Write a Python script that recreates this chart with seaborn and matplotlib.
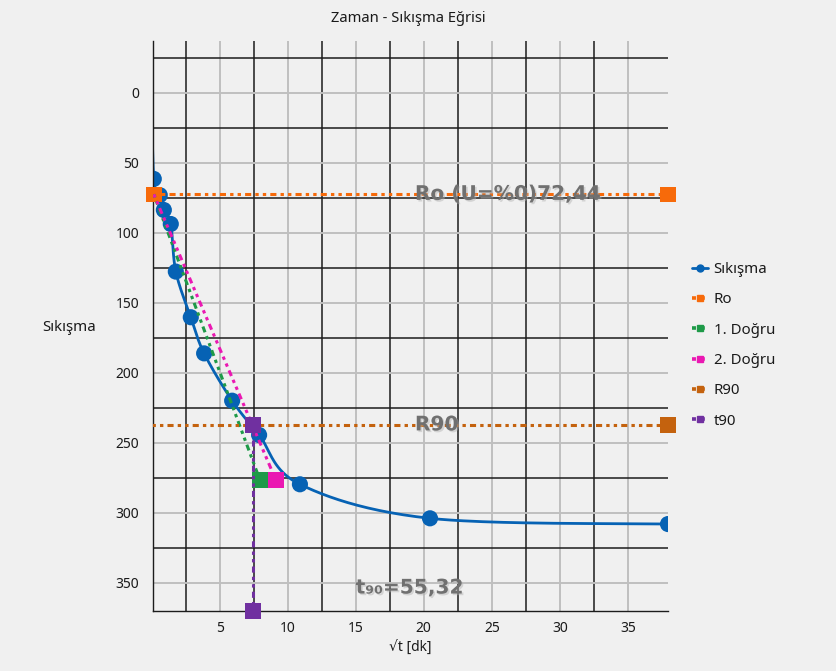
import numpy as np
import matplotlib
matplotlib.use("Agg")
import matplotlib.pyplot as plt
import matplotlib.patheffects as pe
from matplotlib.lines import Line2D
import seaborn as sns

# --- readings: square root of time [dk] and settlement (Sıkışma) ---
sqrt_t = [0.0, 0.16, 0.60, 0.90, 1.41, 1.78, 2.88, 3.86, 5.92, 7.90, 10.90, 20.46, 37.95]
sikisma = [0.0, 61.4, 73.0, 83.6, 93.6, 127.6, 160.2, 186.0, 219.8, 244.3, 279.5, 303.8, 307.9]

# corrected zero reading and construction lines (Taylor method)
ro_value = 72.44
ro_x = [0.16, 37.95]
dogru1_x = [0.16, 7.96]
dogru1_y = [ro_value, 276.4]
dogru2_x = [0.16, 9.13]
dogru2_y = [ro_value, 276.4]
r90_value = 237.1
r90_x = [0.0, 37.95]
t90_value = 55.32
t90_y = [r90_value, 370.0]

x_ticks = [5, 10, 15, 20, 25, 30, 35]
y_ticks = [0, 50, 100, 150, 200, 250, 300, 350]
x_lim = (0.103, 37.95)
y_lim = (370.0, -37.1)

colors = {
    "Sıkışma": "#0662B4",
    "Ro": "#F76A0A",
    "1. Doğru": "#1E9A48",
    "2. Doğru": "#EA18B2",
    "R90": "#C4620E",
    "t90": "#7030A0",
}

sns.set_theme(style="white")
plt.rcParams["font.family"] = ["Noto Sans", "DejaVu Sans"]
BG = "#F0F0F0"
TXT = "#1A1A1A"


def cardinal_spline(xs, ys, sx, sy, tension=0.5, n=40):
    """GDI+-style cardinal spline, evaluated in screen-proportional units."""
    P = np.column_stack([np.asarray(xs, float) * sx, np.asarray(ys, float) * sy])
    k = tension / 3.0
    pts = [P[0]]
    t = np.linspace(0, 1, n)[1:, None]
    for i in range(len(P) - 1):
        prev = P[i - 1] if i > 0 else P[i]
        nxt = P[i + 2] if i + 2 < len(P) else P[i + 1]
        b0, b3 = P[i], P[i + 1]
        b1 = b0 + k * (b3 - prev)
        b2 = b3 - k * (nxt - b0)
        seg = (1 - t) ** 3 * b0 + 3 * (1 - t) ** 2 * t * b1 + 3 * (1 - t) * t ** 2 * b2 + t ** 3 * b3
        pts.extend(seg)
    pts = np.array(pts)
    return pts[:, 0] / sx, pts[:, 1] / sy


fig = plt.figure(figsize=(8.36, 6.71), dpi=100, facecolor=BG)
ax = fig.add_axes([153 / 836, 1 - 611 / 671, 515 / 836, 570 / 671], facecolor=BG)

# grid: light lines at labelled values, dark lines half an interval away
ax.set_xticks(x_ticks)
ax.set_yticks(y_ticks)
ax.set_xticks(np.array(x_ticks) - 2.5, minor=True)
ax.set_yticks(np.array(y_ticks) - 25, minor=True)
ax.set_xlim(*x_lim)
ax.set_ylim(*y_lim)
ax.grid(which="major", color="#BFBFBF", linewidth=1.4)
ax.grid(which="minor", color="#1C1C1C", linewidth=1.1)
ax.set_axisbelow(True)
ax.tick_params(which="both", length=0, labelsize=10, labelcolor=TXT)
ax.tick_params(axis="y", pad=10)
ax.tick_params(axis="x", pad=7)
for side in ("top", "right"):
    ax.spines[side].set_visible(False)
for side in ("left", "bottom"):
    ax.spines[side].set_color("#1C1C1C")
    ax.spines[side].set_linewidth(1.0)

dashdotdot = (0, (1.1, 1.35, 1.1, 1.35, 2.0, 1.35))
lw_dot = 2.2
sq = 125

# settlement curve
cx, cy = cardinal_spline(sqrt_t, sikisma, 13.6, 1.4)
sns.lineplot(x=cx, y=cy, sort=False, estimator=None, color=colors["Sıkışma"],
             linewidth=2.0, ax=ax, zorder=2)
shown = np.array(sqrt_t) >= x_lim[0]
sns.scatterplot(x=np.array(sqrt_t)[shown], y=np.array(sikisma)[shown], s=135,
                color=colors["Sıkışma"], edgecolor="none", ax=ax, zorder=2.1)

# Ro line
sns.lineplot(x=ro_x, y=[ro_value, ro_value], sort=False, estimator=None, color=colors["Ro"],
             linewidth=lw_dot, linestyle=dashdotdot, ax=ax, zorder=3)
sns.scatterplot(x=ro_x, y=[ro_value, ro_value], marker="s", s=sq, color=colors["Ro"],
                edgecolor="none", ax=ax, zorder=3.1)
ax.collections[-1].set_clip_on(False)

# first and second straight lines
for name, xs, ys, z in (("1. Doğru", dogru1_x, dogru1_y, 4), ("2. Doğru", dogru2_x, dogru2_y, 5)):
    sns.lineplot(x=xs, y=ys, sort=False, estimator=None, color=colors[name],
                 linewidth=lw_dot, linestyle=dashdotdot, ax=ax, zorder=z)
    sns.scatterplot(x=xs[-1:], y=ys[-1:], marker="s", s=sq, color=colors[name],
                    edgecolor="none", ax=ax, zorder=z + 0.1)

# R90 line
sns.lineplot(x=r90_x, y=[r90_value, r90_value], sort=False, estimator=None, color=colors["R90"],
             linewidth=lw_dot, linestyle=dashdotdot, ax=ax, zorder=6)
sns.scatterplot(x=r90_x[-1:], y=[r90_value], marker="s", s=sq, color=colors["R90"],
                edgecolor="none", ax=ax, zorder=6.1)
ax.collections[-1].set_clip_on(False)

# t90 line
t90_x = [np.sqrt(t90_value)] * 2
sns.lineplot(x=t90_x, y=t90_y, sort=False, estimator=None, color=colors["t90"],
             linewidth=lw_dot, linestyle=dashdotdot, ax=ax, zorder=7)
sns.scatterplot(x=t90_x, y=t90_y, marker="s", s=sq, color=colors["t90"],
                edgecolor="none", ax=ax, zorder=7.1)
ax.collections[-1].set_clip_on(False)

# value annotations
shadow = [pe.withSimplePatchShadow(offset=(1.2, -1.2), shadow_rgbFace="#B0B0B0", alpha=0.45)]
ann = dict(fontsize=14.5, fontweight="bold", color="#707070", family="DejaVu Sans",
           zorder=9, path_effects=shadow)
ax.text(19.35, ro_value, f"Ro (U=%0){ro_value:.2f}".replace(".", ","), ha="left", va="center", **ann)
ax.text(19.35, r90_value, "R90", ha="left", va="center", **ann)
ax.text(18.95, 353.6, f"t₉₀={t90_value:.2f}".replace(".", ","), ha="center", va="center", **ann)

ax.set_xlabel("")
ax.set_ylabel("")
fig.text(408 / 836, 1 - 18 / 671, "Zaman - Sıkışma Eğrisi", ha="center", va="center",
         fontsize=10.6, color=TXT)
fig.text(410 / 836, 1 - 647 / 671, "√t [dk]", ha="center", va="center",
         fontsize=10, color=TXT)
fig.text(69 / 836, 1 - 327 / 671, "Sıkışma", ha="center", va="center",
         fontsize=10.8, color=TXT)

if ax.get_legend() is not None:
    ax.get_legend().remove()

handles = [Line2D([], [], color=colors["Sıkışma"], linewidth=2.0, marker="o", markersize=5)]
for name in ("Ro", "1. Doğru", "2. Doğru", "R90", "t90"):
    handles.append(Line2D([], [], color=colors[name], linewidth=2.6, linestyle=dashdotdot,
                          marker="s", markersize=4.5))
fig.legend(handles, list(colors.keys()), loc="upper left", bbox_to_anchor=(692 / 836, 1 - 262 / 671),
           frameon=False, fontsize=10.8, handlelength=1.05, handletextpad=0.4,
           labelspacing=1.02, borderpad=0, borderaxespad=0, labelcolor=TXT)

fig.savefig("out.png", dpi=100, facecolor=BG)
